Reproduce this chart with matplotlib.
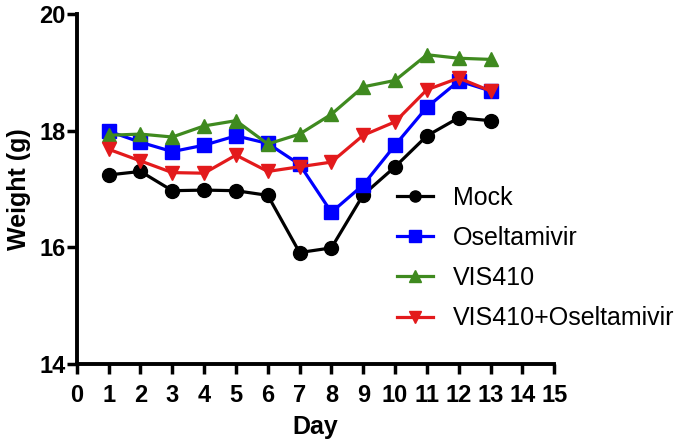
import numpy as np
import matplotlib
matplotlib.use("Agg")
import matplotlib.pyplot as plt

plt.rcParams['font.family'] = ['Liberation Sans', 'DejaVu Sans']

# data
days = [1, 2, 3, 4, 5, 6, 7, 8, 9, 10, 11, 12, 13]
mock = [17.24, 17.30, 16.97, 16.98, 16.97, 16.89, 15.91, 15.99, 16.90, 17.38, 17.91, 18.22, 18.17]
oselt = [17.99, 17.80, 17.64, 17.75, 17.91, 17.78, 17.42, 16.60, 17.07, 17.75, 18.40, 18.85, 18.68]
vis410 = [17.92, 17.94, 17.89, 18.08, 18.17, 17.77, 17.94, 18.28, 18.75, 18.86, 19.30, 19.24, 19.22]
vis_oselt = [17.68, 17.48, 17.28, 17.27, 17.58, 17.30, 17.38, 17.46, 17.92, 18.15, 18.70, 18.90, 18.68]

labels = ['Mock', 'Oseltamivir', 'VIS410', 'VIS410+Oseltamivir']
colors = ['black', '#0000ff', '#3f8a1f', '#e31a1c']
markers = ['o', 's', '^', 'v']
series = [mock, oselt, vis410, vis_oselt]

fig = plt.figure(figsize=(6.8, 4.48), dpi=100)
ax = fig.add_axes([0.113, 0.1875, 0.702, 0.7815])

for vals, lab, c, m in zip(series, labels, colors, markers):
    ax.plot(days, vals, color=c, marker=m, markersize=10, linewidth=2.3, label=lab,
            clip_on=False)

ax.set_xlim(0, 15)
ax.set_ylim(14, 20)
ax.set_xticks(np.arange(0, 16, 1))
ax.set_yticks([14, 16, 18, 20])
for s in ['top', 'right']:
    ax.spines[s].set_visible(False)
for s in ['left', 'bottom']:
    ax.spines[s].set_linewidth(2.8)
ax.tick_params(width=2.5, length=7, labelsize=17)
ax.tick_params(axis='x', pad=7.5)
ax.tick_params(axis='y', pad=1)
for t in ax.get_xticklabels() + ax.get_yticklabels():
    t.set_fontweight('bold')

ax.set_xlabel('Day', fontsize=18, fontweight='bold', labelpad=6)
ax.set_ylabel('Weight (g)', fontsize=18, fontweight='bold', labelpad=6)

fig.legend(loc='upper left', bbox_to_anchor=(0.551, 0.636), frameon=False,
           fontsize=18, handlelength=1.44, handletextpad=0.8, labelspacing=0.65,
           markerscale=0.8)

fig.savefig('out.png', dpi=100)
